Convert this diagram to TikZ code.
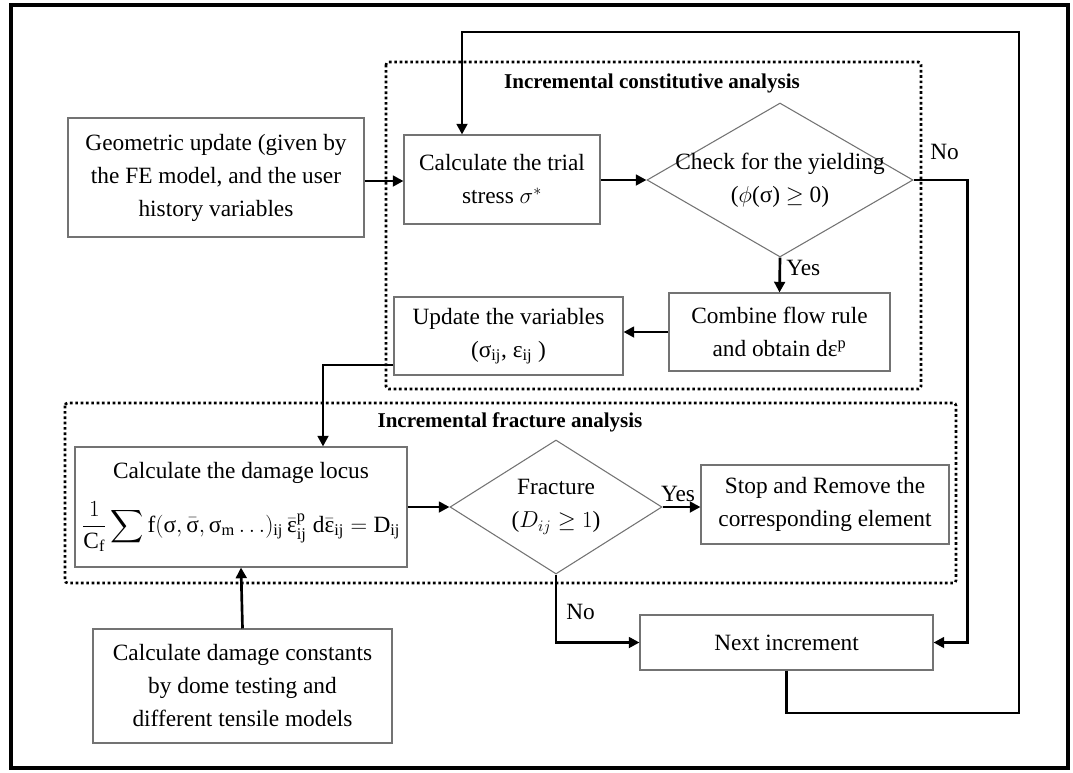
\documentclass[tikz,border=0pt]{standalone}
\usepackage{amsmath}
\usepackage{fontspec}
\setmainfont{Liberation Serif}
\usetikzlibrary{shapes.geometric,arrows.meta}
\begin{document}
\begin{tikzpicture}[x=0.75pt,y=-0.75pt,
	box/.style={draw=black!55,line width=0.8pt,align=center,inner sep=0pt,font=\fontsize{17.5}{24.75}\selectfont},
	choice/.style={diamond,draw=black!55,line width=0.8pt,inner sep=0pt},
	flow/.style={line width=2pt,-{Triangle[length=8pt,width=8pt]}},
	group/.style={line width=2pt,dotted,rounded corners=2pt},
	tag/.style={font=\fontsize{17.5}{24.75}\selectfont,inner sep=0pt},
	heading/.style={font=\fontsize{15.8}{18}\selectfont\bfseries,inner sep=0pt}]
	\useasboundingbox (0,0) rectangle (1073,772);
	\draw[line width=2.4pt] (11,5) rectangle (1068,768);
	\draw[group] (386,62) rectangle (921,389);
	\draw[group] (65,403) rectangle (956,583);
	\node[heading] (conhead) at (652,83) {Incremental constitutive analysis};
	\node[heading] (frahead) at (510,422) {Incremental fracture analysis};
	\node[box,minimum width=222pt,minimum height=89.25pt] (geo) at (216,177.5) {Geometric update (given by\\the FE model, and the user\\history variables};
	\node[box,minimum width=147pt,minimum height=66.75pt] (trial) at (502,179.5) {Calculate the trial\\stress $\sigma^{*}$};
	\node[choice,minimum width=199.5pt,minimum height=115.5pt] (yield) at (780,180) {};
	\node[tag,align=center] (yieldtxt) at (yield) {Check for the yielding\\($\phi$(σ) $\geq$ 0)};
	\node[box,minimum width=165.75pt,minimum height=58.5pt] (combine) at (779.5,332) {Combine flow rule\\and obtain dε\textsuperscript{p}};
	\node[box,minimum width=171.75pt,minimum height=58.5pt] (update) at (508.5,336) {Update the variables\\(σ\textsubscript{ij}, ε\textsubscript{ij} )};
	\node[box,minimum width=249pt,minimum height=90pt] (damage) at (241,507) {Calculate the damage locus\\[13pt]$\displaystyle\frac{1}{\mathrm{C_f}}\sum \mathrm{f}(\text{σ}, \bar{\text{σ}}, \text{σ}_{\mathrm{m}} \ldots)_{\mathrm{ij}}\, \bar{\text{ε}}^{\mathrm{p}}_{\mathrm{ij}}\; \mathrm{d}\bar{\text{ε}}_{\mathrm{ij}} = \mathrm{D_{ij}}$};
	\node[choice,minimum width=159pt,minimum height=100.5pt] (frac) at (556,507) {};
	\node[tag,align=center] (fractxt) at (frac) {Fracture\\($D_{ij} \geq 1$)};
	\node[box,minimum width=186pt,minimum height=59.25pt] (stop) at (825,504.5) {Stop and Remove the\\corresponding element};
	\node[box,minimum width=219.75pt,minimum height=41.25pt] (next) at (786.5,642.5) {Next increment};
	\node[box,minimum width=224.25pt,minimum height=85.5pt] (consts) at (242.5,686) {Calculate damage constants\\by dome testing and\\different tensile models};
	\coordinate (drop) at (323,365);
	\coordinate (loopa) at (1019,713);
	\coordinate (loopb) at (1019,32);
	\coordinate (loopc) at (462,32);
	\draw[flow] (geo.east |- 0,181) -- (trial.west |- 0,181);
	\draw[flow] (trial.east |- yield.west) -- (yield.west);
	\draw[flow] (yield.east) -- ++(54,0) |- (next.east);
	\node[tag,anchor=west] (no1) at (930,152) {No};
	\draw[flow] (yield.south) -- (combine.north);
	\node[tag,anchor=west] (yes1) at (786,268) {Yes};
	\draw[flow] (combine.west) -- (combine.west -| update.east);
	\draw[flow] (update.west |- drop) -- (drop) -- (drop |- damage.north);
	\draw[flow] (damage.east) -- (frac.west);
	\draw[flow] (frac.east) -- (frac.east -| stop.west);
	\node[tag,anchor=south] (yes2) at (678,502) {Yes};
	\draw[flow] (frac.south) |- (next.west);
	\node[tag,anchor=west] (no2) at (566,612) {No};
	\draw[flow] (consts.north) -- (damage.south);
	\draw[flow] (next.south) |- (loopa) -- (loopb) -- (loopc) -- (loopc |- trial.north);
\end{tikzpicture}
\end{document}
